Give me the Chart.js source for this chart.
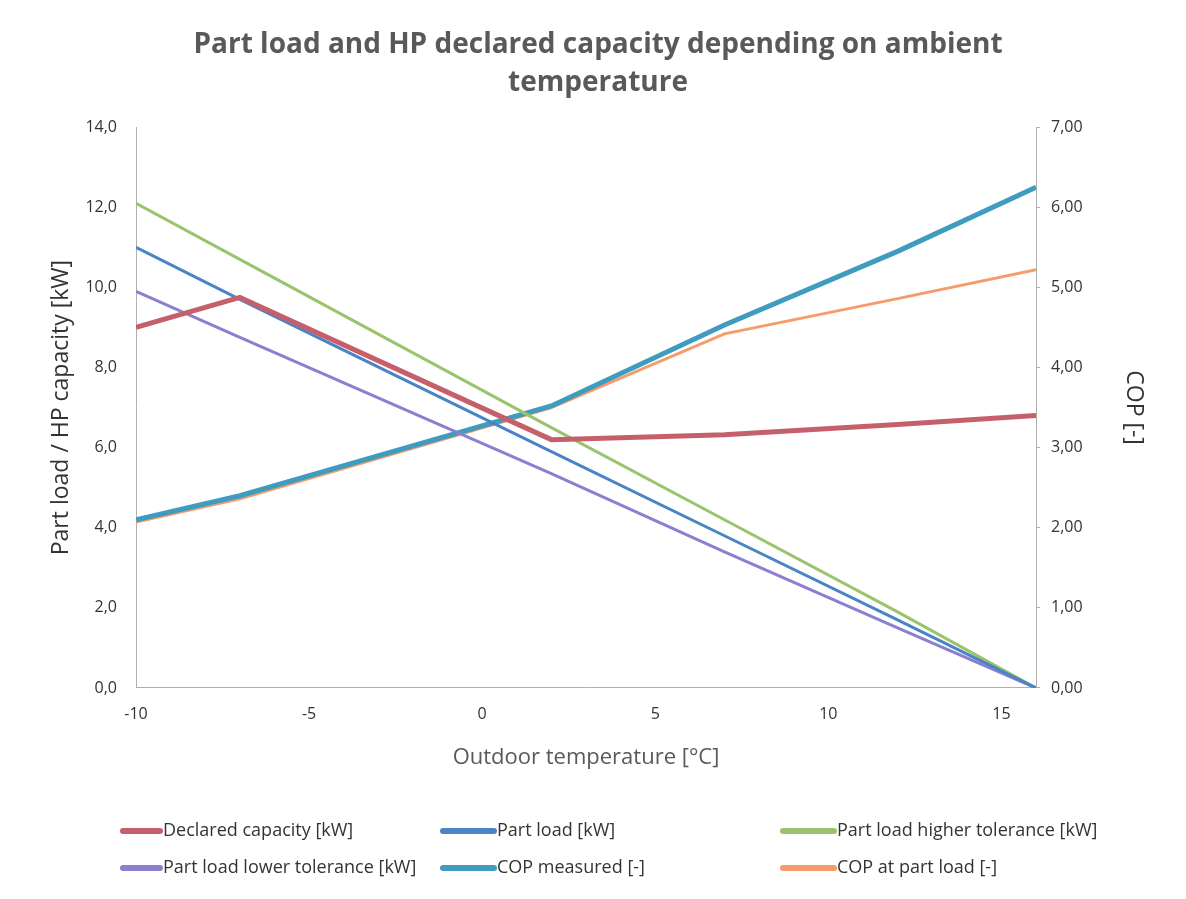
<!DOCTYPE html>
<html lang="en">
<head>
    <meta charset="UTF-8">
    <title>Part load and HP declared capacity</title>
    <script src="https://cdn.jsdelivr.net/npm/chart.js"></script>
    <style>
        body { margin: 0; background: #fff; }
        #wrap { width: 1186px; height: 899px; position: relative; }
    </style>
</head>
<body>
    <div id="wrap">
        <canvas id="hpChart" width="1186" height="899"></canvas>
    </div>

    <script>
        // Outdoor temperatures (x values) shared by all series
        const temps = [-10, -7, 2, 7, 12, 16];

        // Left axis series [kW]
        const declaredCapacity = [9.0, 9.75, 6.2, 6.32, 6.58, 6.8];
        const partLoad = [11.0, 9.7, 5.9, 3.8, 1.7, 0];
        const partLoadHigh = [12.1, 10.7, 6.5, 4.2, 1.9, 0];
        const partLoadLow = [9.9, 8.75, 5.35, 3.4, 1.5, 0];

        // Right axis series [-]
        const copMeasured = [2.1, 2.4, 3.52, 4.53, 5.45, 6.25];
        const copPartLoad = [2.07, 2.36, 3.5, 4.42, 4.86, 5.22];

        const seriesLabels = [
            'Declared capacity [kW]', 'Part load [kW]', 'Part load higher tolerance [kW]',
            'Part load lower tolerance [kW]', 'COP measured [-]', 'COP at part load [-]'
        ];

        const toPoints = (vals) => temps.map((t, i) => ({ x: t, y: vals[i] }));
        const comma = (v, d) => Number(v).toFixed(d).replace('.', ',');

        const FONT = '"Open Sans", "DejaVu Sans", sans-serif';
        const textColor = '#333333';

        const series = [
            { data: declaredCapacity, color: '#c65f6c', width: 5, axis: 'y' },
            { data: partLoad, color: '#4a84c4', width: 3, axis: 'y' },
            { data: partLoadHigh, color: '#99c46c', width: 3, axis: 'y' },
            { data: partLoadLow, color: '#8a80cf', width: 3, axis: 'y' },
            { data: copMeasured, color: '#3f9cbf', width: 5, axis: 'y2' },
            { data: copPartLoad, color: '#f59c6a', width: 3, axis: 'y2' }
        ];

        // legend drawn in fixed columns like the original
        const gridLegend = {
            id: 'gridLegend',
            afterDraw(chart) {
                const ctx = chart.ctx;
                const cols = [120, 440, 780];
                const rows = [831, 868];
                ctx.save();
                ctx.font = '18px ' + FONT;
                ctx.textBaseline = 'middle';
                chart.data.datasets.forEach((ds, i) => {
                    const x = cols[i % 3];
                    const y = rows[Math.floor(i / 3)];
                    const len = i % 3 === 0 ? 43 : 57;
                    ctx.strokeStyle = ds.borderColor;
                    ctx.lineWidth = 6;
                    ctx.lineCap = 'round';
                    ctx.beginPath();
                    ctx.moveTo(x + 3, y);
                    ctx.lineTo(x + len - 3, y);
                    ctx.stroke();
                    ctx.fillStyle = textColor;
                    ctx.fillText(ds.label, x + len, y);
                });
                ctx.restore();
            }
        };

        const ctx = document.getElementById('hpChart').getContext('2d');

        new Chart(ctx, {
            type: 'line',
            data: {
                datasets: series.map((s, i) => ({
                    label: seriesLabels[i],
                    data: toPoints(s.data),
                    borderColor: s.color,
                    backgroundColor: s.color,
                    borderWidth: s.width,
                    pointRadius: 0,
                    tension: 0,
                    yAxisID: s.axis
                }))
            },
            options: {
                responsive: false,
                animation: false,
                layout: { padding: { left: 40, right: 30, top: 0, bottom: 123 } },
                plugins: {
                    legend: { display: false },
                    tooltip: { enabled: false },
                    title: {
                        display: true,
                        text: ['Part load and HP declared capacity depending on ambient', 'temperature'],
                        color: '#595959',
                        font: { family: FONT, size: 28, weight: 'bold', lineHeight: 1.36 },
                        padding: { top: 26, bottom: 25 }
                    }
                },
                scales: {
                    x: {
                        type: 'linear',
                        min: -10,
                        max: 16,
                        afterFit: (s) => { s.height = 88; },
                        afterBuildTicks: (s) => { s.ticks = s.ticks.filter(t => t.value % 5 === 0); },
                        ticks: {
                            stepSize: 5,
                            padding: 17,
                            color: textColor,
                            font: { family: FONT, size: 16 },
                            maxRotation: 0
                        },
                        grid: { display: true, drawOnChartArea: false, drawTicks: false },
                        border: { color: '#b0b0b0', width: 1 },
                        title: {
                            display: true,
                            text: 'Outdoor temperature [°C]',
                            color: '#595959',
                            font: { family: FONT, size: 22 },
                            padding: { top: 0, bottom: 5 }
                        }
                    },
                    y: {
                        position: 'left',
                        min: 0,
                        max: 14,
                        afterFit: (s) => { s.width = 96; },
                        ticks: {
                            stepSize: 2,
                            padding: 19,
                            color: textColor,
                            font: { family: FONT, size: 16 },
                            callback: (v) => comma(v, 1)
                        },
                        grid: { display: true, drawOnChartArea: false, drawTicks: false },
                        border: { color: '#b0b0b0', width: 1 },
                        title: {
                            display: true,
                            text: 'Part load / HP capacity [kW]',
                            color: textColor,
                            font: { family: FONT, size: 23 },
                            padding: { top: 8, bottom: 0 }
                        }
                    },
                    y2: {
                        position: 'right',
                        min: 0,
                        max: 7,
                        afterFit: (s) => { s.width = 120; },
                        ticks: {
                            stepSize: 1,
                            padding: 11,
                            color: textColor,
                            font: { family: FONT, size: 16 },
                            callback: (v) => comma(v, 2)
                        },
                        grid: { display: true, drawOnChartArea: false, drawTicks: true, tickLength: 4, color: '#b0b0b0' },
                        border: { color: '#b0b0b0', width: 1 },
                        title: {
                            display: true,
                            text: 'COP [-]',
                            color: textColor,
                            font: { family: FONT, size: 23 },
                            padding: { top: 9, bottom: 0 }
                        }
                    }
                }
            },
            plugins: [gridLegend]
        });
    </script>
</body>
</html>
